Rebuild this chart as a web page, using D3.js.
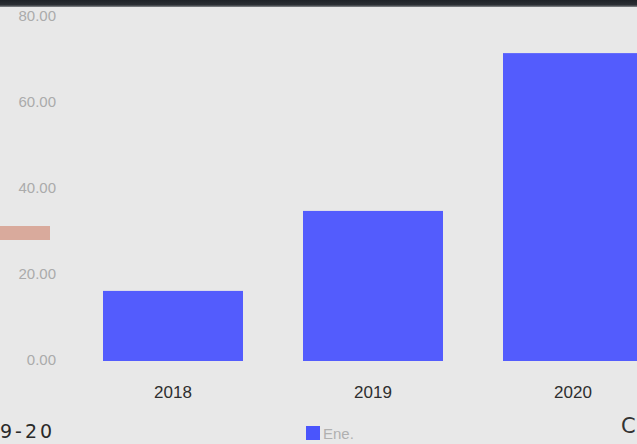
<!DOCTYPE html>
<html><head><meta charset="utf-8">
<script src="https://cdn.jsdelivr.net/npm/d3@7"></script>
<style>
html,body{margin:0;padding:0;background:#e9e9e9;overflow:hidden}
svg{display:block}
</style></head>
<body>
<svg id="c" width="637" height="444"></svg>
<script>
const categories = ["2018", "2019", "2020"];
const values = [16.3, 34.9, 71.6];
const yTicks = [0, 20, 40, 60, 80];
const seriesName = "Ene.";

const W = 637, H = 444;
const svg = d3.select("#c");

// background
svg.append("rect").attr("width", W).attr("height", H).attr("fill", "#e8e8e8");
const grad = svg.append("defs").append("linearGradient").attr("id","top").attr("x1",0).attr("x2",0).attr("y1",0).attr("y2",1);
grad.append("stop").attr("offset","0%").attr("stop-color","#1f2328");
grad.append("stop").attr("offset","70%").attr("stop-color","#2c3035");
grad.append("stop").attr("offset","100%").attr("stop-color","#8a8d90");
svg.append("rect").attr("x",0).attr("y",0).attr("width",W).attr("height",7).attr("fill","url(#top)");

const x = d3.scaleBand().domain(categories).range([73, 673]).paddingInner(0.3).paddingOuter(0.15);
const y = d3.scaleLinear().domain([0, 80]).range([361, 17]);

// decorative salmon bar at left
svg.append("rect").attr("x", 0).attr("y", 226).attr("width", 50).attr("height", 14).attr("fill", "#d9aa9c");

// y axis
const yAxis = d3.axisLeft(y).tickValues(yTicks).tickFormat(d3.format(".2f")).tickSize(0).tickPadding(0);
const ya = svg.append("g").attr("transform", "translate(56,0)").call(yAxis);
ya.select(".domain").remove();
ya.selectAll("text").attr("fill", "#ababab").attr("font-family", "Arial, 'Liberation Sans', sans-serif").attr("font-size", 15).attr("dy", "0.2em");

// bars
svg.append("g").selectAll("rect").data(values).join("rect")
  .attr("x", (d, i) => x(categories[i]))
  .attr("y", d => y(d))
  .attr("width", x.bandwidth())
  .attr("height", d => y(0) - y(d))
  .attr("fill", "#535cfd");

// x axis
const xAxis = d3.axisBottom(x).tickSize(0).tickPadding(0);
const xa = svg.append("g").attr("transform", "translate(0,386)").call(xAxis);
xa.select(".domain").remove();
xa.selectAll("text").attr("fill", "#2e2e2e").attr("font-family", "Arial, 'Liberation Sans', sans-serif").attr("font-size", 17).attr("dy", "0.71em");

// legend
svg.append("rect").attr("x", 306).attr("y", 426).attr("width", 14).attr("height", 14).attr("fill", "#4a55fc");
svg.append("text").attr("x", 323).attr("y", 439).attr("fill", "#b0b0b0")
  .attr("font-family", "Arial, 'Liberation Sans', sans-serif").attr("font-size", 15).text(seriesName);

// partial outer texts
svg.append("text").attr("x", 0).attr("y", 438).attr("fill", "#2a2a2a")
  .attr("font-family", "'DejaVu Sans', sans-serif").attr("font-size", 19).attr("letter-spacing", 3).text("9-20");
svg.append("text").attr("x", 621).attr("y", 433).attr("fill", "#333")
  .attr("font-family", "'DejaVu Sans', sans-serif").attr("font-size", 21).text("C");
</script>
</body></html>
